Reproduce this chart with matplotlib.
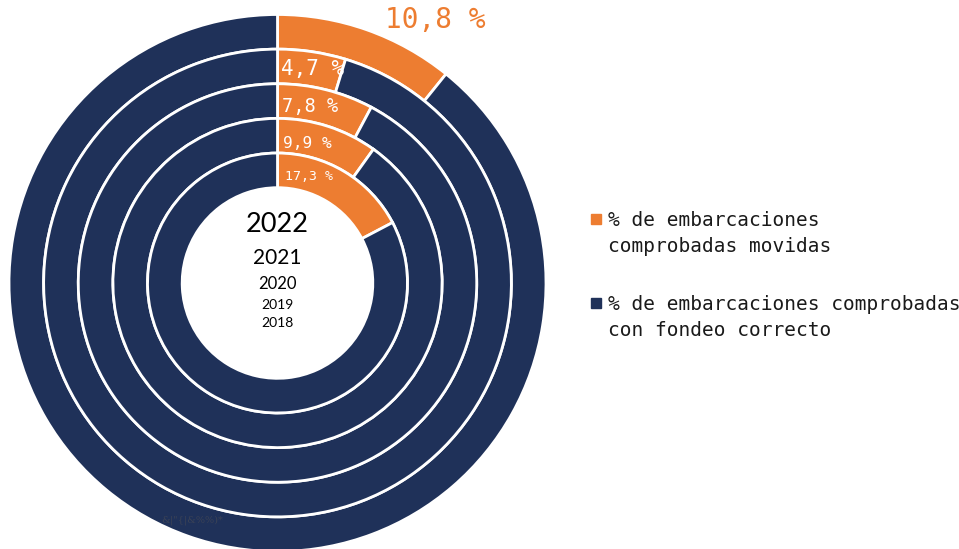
import matplotlib
matplotlib.use("Agg")
import matplotlib.pyplot as plt
from matplotlib.patches import Rectangle

# data, outer ring first
years = ["2022", "2021", "2020", "2019", "2018"]
movidas = [10.8, 4.7, 7.8, 9.9, 17.3]
series_names = ["% de embarcaciones\ncomprobadas movidas",
                "% de embarcaciones comprobadas\ncon fondeo correcto"]

orange = "#ED7D31"
navy = "#1F3159"

W, H = 959, 549
cx, cy = 277.5, 283.0   # pie center in pixels (from top)
R = 268.5               # outer radius in pixels

fig = plt.figure(figsize=(W / 100, H / 100), dpi=100)
ax = fig.add_axes([0, 0, 1, 1])

ring_w = 0.129
for k, v in enumerate(movidas):
    ax.pie([v, 100 - v], radius=1 - k * ring_w, colors=[orange, navy],
           startangle=90, counterclock=False,
           wedgeprops=dict(width=ring_w, edgecolor="white", linewidth=2))

ax.set_xlim(-cx / R, (W - cx) / R)
ax.set_ylim(-(H - cy) / R, cy / R)
ax.set_aspect("auto")
ax.axis("off")

mono = "DejaVu Sans Mono"
fmt = lambda v: f"{v:.1f} %".replace(".", ",")

# outer value sits outside the ring
ax.text((435 - cx) / R, (cy - 20) / R, fmt(movidas[0]), color=orange,
        fontsize=20, family=mono, ha="center", va="center")

sizes = [15, 13.4, 11.7, 9.5]
offs = [0.01, 0.02, 0.03, 0.022]
for k in range(1, len(movidas)):
    rmid = 1 - ring_w * (k + 0.5)
    ax.text(0.012 + 0.005 * (k - 1), rmid - offs[k - 1], fmt(movidas[k]),
            color="white", fontsize=sizes[k - 1], family=mono,
            ha="left", va="center")

# year labels in the hole
year_sizes = [19.5, 15, 12, 10, 10]
year_y = [224, 258, 284, 305, 323]
for yr, fs, py in zip(years, year_sizes, year_y):
    ax.text(0, (cy - py) / R, yr, fontsize=fs, family="Lato",
            ha="center", va="center", color="black")

# faint garbled label on the outer ring
ax.text((192 - cx) / R, (cy - 520) / R, "&|\"{|&%%)*", fontsize=7,
        family="DejaVu Serif", color="#3a4256", ha="center", va="center")

# legend drawn by hand
for i, (name, col) in enumerate(zip(series_names, [orange, navy])):
    top = 214 + i * 84
    fig.patches.append(Rectangle((591 / W, 1 - (top + 10) / H), 10 / W, 10 / H,
                                 transform=fig.transFigure, color=col))
    fig.text(608 / W, 1 - (top - 3) / H, name, fontsize=14, family=mono,
             va="top", ha="left", linespacing=1.45, color="#1a1a1a")

fig.savefig("out.png", dpi=100)
